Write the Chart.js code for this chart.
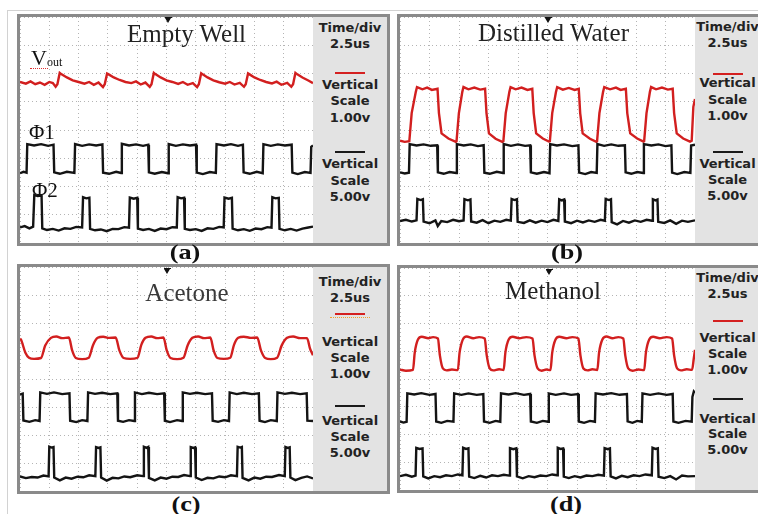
<!DOCTYPE html>
<html>
<head>
<meta charset="utf-8">
<script src="https://cdn.jsdelivr.net/npm/chart.js@4.4.0/dist/chart.umd.min.js"></script>
<style>
  body { margin: 0; width: 758px; height: 514px; position: relative; overflow: hidden; background: #fff; font-family: "DejaVu Sans", sans-serif; }
  .page { position: absolute; left: 7px; top: 10px; width: 800px; height: 600px; border-left: 1px solid #d2d2d2; border-top: 1px solid #d2d2d2; }
  .frame { position: absolute; box-sizing: border-box; border: 3px solid #8a8a8a; background: #fff; }
  canvas { position: absolute; }
  .side { position: absolute; background: #e3e3e3; }
  .side div { position: absolute; left: 0; right: 0; text-align: center; font-weight: bold; font-size: 13px; line-height: 13px; color: #222; white-space: nowrap; }
  .side .line { left: 50%; right: auto; width: 30px; margin-left: -15px; height: 2px; }
  .side .red { background: #d42020; }
  .side .blk { background: #1a1a1a; }
  .side .dots { height: 0; border-top: 1px dotted #f0a030; width: 40px; margin-left: -20px; }
  .title { position: absolute; font-family: "Liberation Serif", serif; font-size: 25px; line-height: 25px; color: #222; white-space: nowrap; transform: translateX(-50%); }
  .cap { position: absolute; font-family: "Liberation Serif", serif; font-weight: bold; font-size: 21px; line-height: 20px; color: #111; transform: translateX(-50%) scaleX(1.25); }
  .lab { position: absolute; font-family: "Liberation Serif", serif; color: #111; line-height: 1; white-space: nowrap; }
  .trig { position: absolute; width: 0; height: 0; border-left: 3px solid transparent; border-right: 3px solid transparent; border-top: 5px solid #111; }
  .tbar { position: absolute; width: 7px; height: 1px; background: #111; }
</style>
</head>
<body>
<div class="page"></div>

<div class="frame" style="left:17px;top:14px;width:373px;height:232px"></div>
<div class="frame" style="left:397px;top:14px;width:380px;height:232px"></div>
<div class="frame" style="left:17px;top:264px;width:373px;height:230px"></div>
<div class="frame" style="left:397px;top:265px;width:380px;height:228px"></div>

<canvas id="scopeA" width="293" height="226" style="left:20px;top:17px"></canvas>
<canvas id="scopeB" width="295" height="226" style="left:400px;top:17px"></canvas>
<canvas id="scopeC" width="293" height="224" style="left:20px;top:267px"></canvas>
<canvas id="scopeD" width="295" height="222" style="left:400px;top:268px"></canvas>

<div class="side" style="left:313px;top:17px;width:74px;height:226px">
  <div style="top:4px">Time/div</div>
  <div style="top:19.7px">2.5us</div>
  <div class="line red" style="top:55.3px"></div>
  <div style="top:61px">Vertical</div>
  <div style="top:77px">Scale</div>
  <div style="top:93.7px">1.00v</div>
  <div class="line blk" style="top:133.7px"></div>
  <div style="top:140.3px">Vertical</div>
  <div style="top:157px">Scale</div>
  <div style="top:173px">5.00v</div>
</div>
<div class="side" style="left:695px;top:17px;width:65px;height:226px">
  <div style="top:2.7px">Time/div</div>
  <div style="top:18.7px">2.5us</div>
  <div class="line red" style="top:56px"></div>
  <div style="top:59.3px">Vertical</div>
  <div style="top:76px">Scale</div>
  <div style="top:92px">1.00v</div>
  <div class="line blk" style="top:133.7px"></div>
  <div style="top:140.3px">Vertical</div>
  <div style="top:156.3px">Scale</div>
  <div style="top:172px">5.00v</div>
</div>
<div class="side" style="left:313px;top:267px;width:74px;height:224px">
  <div style="top:7.7px">Time/div</div>
  <div style="top:24.3px">2.5us</div>
  <div class="line red" style="top:46.3px"></div>
  <div class="line dots" style="top:50px"></div>
  <div style="top:67.7px">Vertical</div>
  <div style="top:83.7px">Scale</div>
  <div style="top:100.3px">1.00v</div>
  <div class="line blk" style="top:138px"></div>
  <div style="top:147px">Vertical</div>
  <div style="top:163px">Scale</div>
  <div style="top:179.3px">5.00v</div>
</div>
<div class="side" style="left:695px;top:268px;width:65px;height:222px">
  <div style="top:3.3px">Time/div</div>
  <div style="top:19.3px">2.5us</div>
  <div class="line red" style="top:52px"></div>
  <div style="top:63.3px">Vertical</div>
  <div style="top:79.3px">Scale</div>
  <div style="top:95px">1.00v</div>
  <div class="line blk" style="top:130px"></div>
  <div style="top:143.7px">Vertical</div>
  <div style="top:159.3px">Scale</div>
  <div style="top:175.3px">5.00v</div>
</div>

<div class="title" style="left:186.5px;top:20.7px">Empty Well</div>
<div class="title" style="left:553.5px;top:19.7px">Distilled Water</div>
<div class="title" style="left:187px;top:280px;color:#3a3a3a">Acetone</div>
<div class="title" style="left:553px;top:278.3px">Methanol</div>

<div class="lab" style="left:31px;top:46.6px;font-size:22px">V</div>
<div class="lab" style="left:47px;top:56px;font-size:12px">out</div>
<div style="position:absolute;left:30px;top:68px;width:18px;height:0;border-top:1px dotted #e03030"></div>
<div class="lab" style="left:29px;top:122.4px;font-size:21px">&Phi;1</div>
<div class="lab" style="left:32px;top:180.4px;font-size:21px">&Phi;2</div>

<div class="cap" style="left:185px;top:242px">(a)</div>
<div class="cap" style="left:567px;top:242px">(b)</div>
<div class="cap" style="left:185.5px;top:494px">(c)</div>
<div class="cap" style="left:566px;top:494px">(d)</div>

<div class="tbar" style="left:165px;top:17px"></div><div class="trig" style="left:165px;top:18px"></div>
<div class="tbar" style="left:545px;top:17px"></div><div class="trig" style="left:545px;top:18px"></div>
<div class="tbar" style="left:164px;top:268px"></div><div class="trig" style="left:164px;top:269px"></div>
<div class="tbar" style="left:546px;top:269px"></div><div class="trig" style="left:546px;top:270px"></div>

<script>
"use strict";

// time in microseconds (2.5 us/div, 10 div), level in vertical divisions (8 div)

// (a) Empty Well
const voutA = [
  [0, 5.70], [0.5, 5.64], [0.9, 5.72], [1.3, 5.62], [1.7, 5.68], [2.1, 5.60], [2.5, 5.70], [2.8, 5.66],
  [3.04, 5.53], [3.19, 5.62], [3.39, 6.02], [3.55, 5.97], [4.0, 5.86], [4.5, 5.76], [5.0, 5.70], [5.5, 5.64],
  [5.9, 5.70], [6.3, 5.60], [6.7, 5.68], [7.08, 5.52], [7.23, 5.62], [7.43, 6.00], [7.6, 5.96], [8.0, 5.86],
  [8.5, 5.77], [9.0, 5.70], [9.5, 5.66], [9.9, 5.72], [10.3, 5.61], [10.7, 5.68], [11.07, 5.53], [11.22, 5.62],
  [11.42, 6.02], [11.58, 5.97], [12.0, 5.86], [12.5, 5.76], [13.0, 5.70], [13.5, 5.63], [13.9, 5.70], [14.3, 5.60],
  [14.75, 5.66], [15.11, 5.52], [15.26, 5.62], [15.46, 6.01], [15.62, 5.96], [16.0, 5.86], [16.5, 5.76], [17.0, 5.69],
  [17.5, 5.64], [17.9, 5.70], [18.3, 5.61], [18.75, 5.67], [19.11, 5.53], [19.26, 5.62], [19.46, 6.00], [19.62, 5.96],
  [20.0, 5.86], [20.5, 5.77], [21.0, 5.70], [21.5, 5.65], [21.9, 5.71], [22.3, 5.60], [22.8, 5.67], [23.15, 5.53],
  [23.3, 5.62], [23.5, 6.02], [23.66, 5.97], [24.1, 5.86], [24.6, 5.75], [25, 5.66]
];
const phi1A = [
  [0, 2.47], [0.3, 2.52], [0.56, 2.49], [0.62, 3.50], [1.2, 3.45], [1.8, 3.50], [2.4, 3.44], [2.86, 3.48],
  [2.92, 2.50], [3.4, 2.45], [4.0, 2.52], [4.64, 2.48], [4.70, 3.50], [5.3, 3.44], [5.9, 3.49], [6.5, 3.45],
  [7.03, 3.49], [7.09, 2.49], [7.6, 2.45], [8.2, 2.52], [8.63, 2.48], [8.69, 3.51], [9.3, 3.45], [9.9, 3.49],
  [10.5, 3.44], [10.94, 3.48], [11.0, 2.50], [11.5, 2.45], [12.1, 2.51], [12.63, 2.47], [12.69, 3.50], [13.3, 3.44],
  [13.9, 3.49], [14.5, 3.45], [15.02, 3.48], [15.08, 2.49], [15.6, 2.44], [16.2, 2.51], [16.71, 2.48], [16.77, 3.50],
  [17.4, 3.45], [18.0, 3.50], [18.6, 3.44], [19.02, 3.48], [19.08, 2.50], [19.6, 2.45], [20.2, 2.52], [20.71, 2.47],
  [20.77, 3.50], [21.4, 3.44], [22.0, 3.49], [22.6, 3.45], [23.18, 3.48], [23.24, 2.49], [23.7, 2.44], [24.3, 2.51],
  [24.79, 2.48], [24.85, 3.40], [25, 3.45]
];
const phi2A = [
  [0, 0.55], [0.4, 0.60], [0.8, 0.52], [1.12, 0.58], [1.22, 1.70], [1.5, 1.66], [1.84, 1.68], [1.90, 0.52],
  [2.3, 0.46], [2.8, 0.50], [3.3, 0.44], [3.8, 0.52], [4.3, 0.50], [4.8, 0.57], [5.3, 0.55], [5.38, 1.62],
  [5.65, 1.58], [5.92, 1.60], [5.98, 0.50], [6.4, 0.45], [6.9, 0.48], [7.4, 0.42], [7.9, 0.50], [8.4, 0.49],
  [8.9, 0.56], [9.3, 0.54], [9.37, 1.61], [9.7, 1.57], [10.0, 1.60], [10.06, 0.51], [10.5, 0.46], [11.0, 0.50],
  [11.5, 0.43], [12.0, 0.51], [12.5, 0.49], [13.0, 0.56], [13.38, 0.55], [13.45, 1.62], [13.75, 1.58], [14.0, 1.60],
  [14.06, 0.50], [14.5, 0.46], [15.0, 0.49], [15.5, 0.43], [16.0, 0.52], [16.5, 0.50], [17.0, 0.57], [17.38, 0.55],
  [17.45, 1.61], [17.8, 1.57], [18.08, 1.60], [18.14, 0.51], [18.6, 0.45], [19.1, 0.49], [19.6, 0.43], [20.1, 0.51],
  [20.6, 0.49], [21.1, 0.56], [21.46, 0.54], [21.53, 1.62], [21.8, 1.58], [22.08, 1.60], [22.14, 0.50], [22.6, 0.45],
  [23.1, 0.50], [23.6, 0.44], [24.1, 0.51], [24.6, 0.55], [25, 0.58]
];

// (b) Distilled Water
const voutB = [
  [0, 3.62], [0.4, 3.58], [0.79, 3.60], [0.99, 4.60], [1.34, 5.35], [1.44, 5.52], [1.9, 5.44], [2.3, 5.50],
  [2.7, 5.42], [3.18, 5.46], [3.30, 4.60], [3.52, 3.88], [4.1, 3.70], [4.73, 3.58], [4.79, 3.60], [4.99, 4.60],
  [5.28, 5.35], [5.38, 5.52], [5.8, 5.44], [6.3, 5.50], [6.8, 5.43], [7.21, 5.46], [7.33, 4.60], [7.54, 3.88],
  [8.1, 3.69], [8.67, 3.58], [8.76, 3.60], [8.96, 4.60], [9.27, 5.35], [9.37, 5.52], [9.8, 5.44], [10.3, 5.50],
  [10.8, 5.42], [11.21, 5.46], [11.33, 4.60], [11.54, 3.88], [12.1, 3.70], [12.61, 3.59], [12.70, 3.60], [12.90, 4.60],
  [13.22, 5.35], [13.32, 5.52], [13.8, 5.43], [14.3, 5.49], [14.8, 5.42], [15.15, 5.46], [15.27, 4.60], [15.48, 3.88],
  [16.1, 3.69], [16.64, 3.58], [16.70, 3.60], [16.90, 4.60], [17.21, 5.35], [17.31, 5.52], [17.8, 5.44], [18.3, 5.50],
  [18.7, 5.42], [19.14, 5.46], [19.26, 4.60], [19.51, 3.88], [20.1, 3.70], [20.64, 3.59], [20.69, 3.60], [20.89, 4.60],
  [21.18, 5.35], [21.28, 5.52], [21.7, 5.44], [22.2, 5.50], [22.7, 5.43], [23.11, 5.46], [23.23, 4.60], [23.45, 3.88],
  [24.0, 3.70], [24.58, 3.59], [24.72, 3.62], [24.86, 4.82], [25, 5.10]
];
const phi1B = [
  [0, 2.50], [0.4, 2.46], [0.76, 2.49], [0.82, 3.50], [1.4, 3.45], [2.0, 3.49], [2.6, 3.44], [3.15, 3.46],
  [3.21, 2.50], [3.7, 2.45], [4.2, 2.51], [4.76, 2.48], [4.82, 3.50], [5.4, 3.45], [6.0, 3.49], [6.6, 3.43],
  [7.09, 3.46], [7.15, 2.49], [7.6, 2.45], [8.2, 2.52], [8.73, 2.48], [8.79, 3.50], [9.4, 3.44], [10.0, 3.49],
  [10.6, 3.44], [11.03, 3.46], [11.09, 2.50], [11.6, 2.45], [12.2, 2.51], [12.67, 2.47], [12.73, 3.50], [13.3, 3.45],
  [13.9, 3.49], [14.6, 3.43], [15.12, 3.46], [15.18, 2.49], [15.7, 2.44], [16.2, 2.51], [16.67, 2.48], [16.73, 3.50],
  [17.3, 3.44], [17.9, 3.49], [18.5, 3.44], [19.06, 3.46], [19.12, 2.50], [19.6, 2.45], [20.1, 2.51], [20.61, 2.48],
  [20.67, 3.50], [21.3, 3.45], [21.9, 3.49], [22.5, 3.43], [23.0, 3.46], [23.06, 2.49], [23.5, 2.44], [24.1, 2.51],
  [24.61, 2.48], [24.67, 3.45], [25, 3.48]
];
const phi2B = [
  [0, 0.78], [0.5, 0.82], [1.0, 0.76], [1.4, 0.80], [1.47, 1.56], [1.75, 1.52], [1.94, 1.55], [2.0, 0.76],
  [2.5, 0.70], [3.0, 0.80], [3.2, 0.60], [3.5, 0.78], [4.0, 0.74], [4.5, 0.82], [5.0, 0.77], [5.39, 0.80],
  [5.46, 1.55], [5.75, 1.51], [5.97, 1.54], [6.03, 0.76], [6.5, 0.72], [7.0, 0.81], [7.5, 0.70], [8.0, 0.79],
  [8.5, 0.75], [9.0, 0.82], [9.39, 0.79], [9.46, 1.56], [9.7, 1.52], [9.91, 1.55], [9.97, 0.75], [10.5, 0.71],
  [11.0, 0.80], [11.5, 0.72], [12.0, 0.79], [12.5, 0.74], [13.0, 0.82], [13.42, 0.78], [13.49, 1.55], [13.7, 1.51],
  [13.91, 1.54], [13.97, 0.76], [14.5, 0.70], [15.0, 0.79], [15.5, 0.73], [16.0, 0.80], [16.5, 0.75], [17.0, 0.82],
  [17.36, 0.79], [17.43, 1.56], [17.7, 1.52], [17.88, 1.55], [17.94, 0.74], [18.4, 0.66], [18.9, 0.78], [19.4, 0.72],
  [19.9, 0.80], [20.4, 0.75], [20.9, 0.82], [21.36, 0.79], [21.43, 1.55], [21.65, 1.51], [21.82, 1.54], [21.88, 0.75],
  [22.4, 0.71], [22.9, 0.80], [23.4, 0.68], [23.9, 0.79], [24.4, 0.75], [25, 0.80]
];

// (c) Acetone
const voutC = [
  [0, 5.44], [0.09, 5.40], [0.45, 4.95], [0.77, 4.76], [1.2, 4.72], [1.79, 4.75], [2.15, 5.20], [2.64, 5.47],
  [3.1, 5.52], [3.6, 5.46], [4.17, 5.48], [4.45, 5.02], [4.76, 4.75], [5.3, 4.71], [5.87, 4.76], [6.22, 5.20],
  [6.63, 5.47], [7.1, 5.51], [7.6, 5.47], [8.16, 5.48], [8.48, 5.02], [8.84, 4.75], [9.4, 4.72], [10.03, 4.76],
  [10.35, 5.22], [10.71, 5.47], [11.2, 5.52], [11.7, 5.46], [12.24, 5.48], [12.52, 5.02], [12.84, 4.75], [13.4, 4.71],
  [13.95, 4.76], [14.3, 5.20], [14.71, 5.47], [15.2, 5.52], [15.7, 5.46], [16.24, 5.48], [16.52, 5.02], [16.84, 4.75],
  [17.4, 4.72], [17.94, 4.76], [18.26, 5.22], [18.62, 5.47], [19.1, 5.51], [19.7, 5.47], [20.24, 5.48], [20.56, 5.02],
  [20.92, 4.75], [21.4, 4.71], [21.94, 4.76], [22.33, 5.20], [22.79, 5.47], [23.3, 5.52], [23.9, 5.46], [24.49, 5.46],
  [24.75, 5.08], [25, 4.85]
];
const phi1C = [
  [0, 3.45], [0.23, 3.48], [0.29, 2.52], [0.8, 2.47], [1.3, 2.53], [1.67, 2.50], [1.73, 3.52], [2.3, 3.47],
  [2.9, 3.52], [3.6, 3.46], [4.22, 3.49], [4.28, 2.51], [4.8, 2.46], [5.3, 2.53], [5.75, 2.50], [5.81, 3.52],
  [6.4, 3.47], [7.0, 3.51], [7.7, 3.46], [8.3, 3.49], [8.36, 2.51], [8.8, 2.47], [9.3, 2.53], [9.75, 2.50],
  [9.81, 3.52], [10.4, 3.46], [11.0, 3.51], [11.7, 3.46], [12.3, 3.49], [12.36, 2.51], [12.8, 2.46], [13.4, 2.53],
  [13.83, 2.50], [13.89, 3.52], [14.5, 3.47], [15.1, 3.51], [15.8, 3.46], [16.38, 3.49], [16.44, 2.51], [16.9, 2.47],
  [17.4, 2.53], [17.83, 2.50], [17.89, 3.52], [18.5, 3.46], [19.1, 3.51], [19.8, 3.46], [20.38, 3.49], [20.44, 2.51],
  [20.9, 2.46], [21.4, 2.53], [21.91, 2.50], [21.97, 3.52], [22.6, 3.47], [23.2, 3.51], [23.9, 3.46], [24.46, 3.49],
  [24.52, 2.51], [25, 2.50]
];
const phi2C = [
  [0, 0.52], [0.5, 0.46], [1.0, 0.50], [1.5, 0.48], [2.0, 0.55], [2.44, 0.52], [2.5, 1.58], [2.7, 1.55],
  [2.86, 1.57], [2.92, 0.48], [3.4, 0.38], [3.9, 0.48], [4.4, 0.44], [4.9, 0.51], [5.4, 0.49], [5.9, 0.56],
  [6.43, 0.53], [6.49, 1.57], [6.7, 1.54], [6.86, 1.56], [6.92, 0.48], [7.4, 0.37], [7.9, 0.47], [8.4, 0.45],
  [8.9, 0.52], [9.4, 0.49], [10.0, 0.56], [10.51, 0.53], [10.57, 1.58], [10.8, 1.54], [10.94, 1.57], [11.0, 0.47],
  [11.5, 0.38], [12.0, 0.48], [12.5, 0.44], [13.0, 0.51], [13.5, 0.50], [14.0, 0.57], [14.51, 0.53], [14.57, 1.57],
  [14.8, 1.54], [14.94, 1.56], [15.0, 0.48], [15.5, 0.39], [16.0, 0.47], [16.5, 0.45], [17.0, 0.52], [17.5, 0.49],
  [18.0, 0.56], [18.51, 0.53], [18.57, 1.58], [18.8, 1.55], [18.93, 1.57], [18.99, 0.47], [19.5, 0.38], [20.0, 0.48],
  [20.5, 0.44], [21.0, 0.51], [21.5, 0.50], [22.1, 0.57], [22.59, 0.53], [22.65, 1.57], [22.85, 1.54], [23.01, 1.56],
  [23.07, 0.48], [23.5, 0.39], [24.0, 0.47], [24.5, 0.52], [25, 0.45]
];

// (d) Methanol
const voutD = [
  [0, 4.34], [0.5, 4.30], [1.1, 4.33], [1.25, 4.95], [1.52, 5.42], [1.85, 5.52], [2.4, 5.47], [2.8, 5.51],
  [3.21, 5.46], [3.38, 4.85], [3.63, 4.38], [3.95, 4.31], [4.4, 4.34], [4.9, 4.32], [5.05, 4.95], [5.32, 5.42],
  [5.65, 5.53], [6.2, 5.47], [6.7, 5.51], [7.18, 5.46], [7.35, 4.85], [7.6, 4.38], [7.9, 4.31], [8.4, 4.35],
  [8.78, 4.32], [8.93, 4.95], [9.21, 5.42], [9.55, 5.52], [10.1, 5.47], [10.7, 5.51], [11.23, 5.46], [11.4, 4.85],
  [11.66, 4.38], [12.0, 4.30], [12.4, 4.34], [12.75, 4.32], [12.9, 4.95], [13.18, 5.42], [13.5, 5.52], [14.1, 5.47],
  [14.6, 5.51], [15.12, 5.46], [15.29, 4.85], [15.54, 4.38], [15.9, 4.31], [16.3, 4.35], [16.72, 4.32], [16.87, 4.95],
  [17.15, 5.42], [17.5, 5.53], [18.0, 5.47], [18.5, 5.51], [18.92, 5.46], [19.09, 4.85], [19.34, 4.38], [19.7, 4.30],
  [20.2, 4.34], [20.69, 4.32], [20.84, 4.95], [21.12, 5.42], [21.45, 5.52], [22.0, 5.47], [22.6, 5.51], [23.06, 5.46],
  [23.23, 4.85], [23.48, 4.38], [23.8, 4.31], [24.3, 4.35], [24.75, 4.33], [24.9, 4.75], [25, 5.05]
];
const phi1D = [
  [0, 2.47], [0.3, 2.43], [0.56, 2.46], [0.62, 3.48], [1.2, 3.44], [1.8, 3.49], [2.5, 3.43], [3.01, 3.46],
  [3.07, 2.47], [3.5, 2.42], [4.0, 2.49], [4.53, 2.46], [4.59, 3.48], [5.2, 3.43], [5.8, 3.48], [6.5, 3.43],
  [7.06, 3.46], [7.12, 2.47], [7.6, 2.42], [8.1, 2.49], [8.5, 2.46], [8.56, 3.48], [9.2, 3.44], [9.8, 3.49],
  [10.5, 3.43], [11.03, 3.46], [11.09, 2.47], [11.6, 2.42], [12.1, 2.49], [12.55, 2.46], [12.61, 3.48], [13.2, 3.43],
  [13.9, 3.48], [14.5, 3.43], [15.09, 3.46], [15.15, 2.47], [15.6, 2.42], [16.1, 2.49], [16.52, 2.46], [16.58, 3.48],
  [17.2, 3.44], [17.9, 3.49], [18.6, 3.43], [19.23, 3.46], [19.29, 2.47], [19.7, 2.42], [20.1, 2.49], [20.49, 2.46],
  [20.55, 3.48], [21.2, 3.43], [21.9, 3.48], [22.6, 3.43], [23.11, 3.46], [23.17, 2.47], [23.6, 2.42], [24.2, 2.49],
  [24.72, 2.46], [24.78, 3.35], [24.9, 3.55], [25, 3.50]
];
const phi2D = [
  [0, 0.50], [0.5, 0.55], [1.0, 0.48], [1.32, 0.52], [1.38, 1.52], [1.65, 1.48], [1.91, 1.50], [1.97, 0.49],
  [2.4, 0.42], [2.9, 0.50], [3.4, 0.46], [3.9, 0.53], [4.4, 0.50], [4.9, 0.56], [5.29, 0.53], [5.35, 1.52],
  [5.6, 1.48], [5.8, 1.50], [5.86, 0.48], [6.3, 0.43], [6.8, 0.51], [7.3, 0.45], [7.8, 0.53], [8.3, 0.50],
  [8.8, 0.55], [9.26, 0.52], [9.32, 1.51], [9.6, 1.47], [9.85, 1.50], [9.91, 0.49], [10.4, 0.42], [10.9, 0.50],
  [11.4, 0.46], [11.9, 0.52], [12.4, 0.50], [12.9, 0.56], [13.31, 0.53], [13.37, 1.52], [13.6, 1.48], [13.82, 1.50],
  [13.88, 0.48], [14.3, 0.43], [14.8, 0.50], [15.3, 0.45], [15.8, 0.52], [16.3, 0.50], [16.8, 0.55], [17.28, 0.52],
  [17.34, 1.51], [17.6, 1.47], [17.79, 1.50], [17.85, 0.49], [18.3, 0.42], [18.8, 0.51], [19.3, 0.46], [19.8, 0.53],
  [20.3, 0.50], [20.8, 0.56], [21.34, 0.53], [21.4, 1.52], [21.65, 1.48], [21.85, 1.50], [21.91, 0.48], [22.4, 0.43],
  [22.9, 0.50], [23.4, 0.38], [23.9, 0.52], [24.4, 0.49], [25, 0.50]
];

const RED = "#d21f1f";
const BLACK = "#141414";
const GRID = "#b4b4b4";

function trace(points, color, extra) {
  return Object.assign({
    data: points.map(([t, v]) => ({ x: t, y: v })),
    borderColor: color,
    borderWidth: 2.4,
    pointRadius: 0,
    tension: 0,
    fill: false,
  }, extra || {});
}

function axis(max, step) {
  return {
    type: "linear",
    min: 0,
    max: max,
    ticks: { display: false, stepSize: step },
    grid: { color: GRID, drawTicks: false, lineWidth: 1 },
    border: { display: false, dash: [1, 3] },
  };
}

function scope(id, vout, phi1, phi2, rounded) {
  new Chart(document.getElementById(id), {
    type: "line",
    data: {
      datasets: [
        trace(phi1, BLACK),
        trace(phi2, BLACK),
        trace(vout, RED, rounded ? { cubicInterpolationMode: "monotone" } : {}),
      ],
    },
    options: {
      responsive: false,
      animation: false,
      events: [],
      layout: { padding: 0 },
      plugins: {
        legend: { display: false },
        tooltip: { enabled: false },
      },
      scales: {
        x: axis(25, 2.5),
        y: axis(8, 1),
      },
    },
  });
}

scope("scopeA", voutA, phi1A, phi2A, false);
scope("scopeB", voutB, phi1B, phi2B, false);
scope("scopeC", voutC, phi1C, phi2C, true);
scope("scopeD", voutD, phi1D, phi2D, true);
</script>
</body>
</html>
